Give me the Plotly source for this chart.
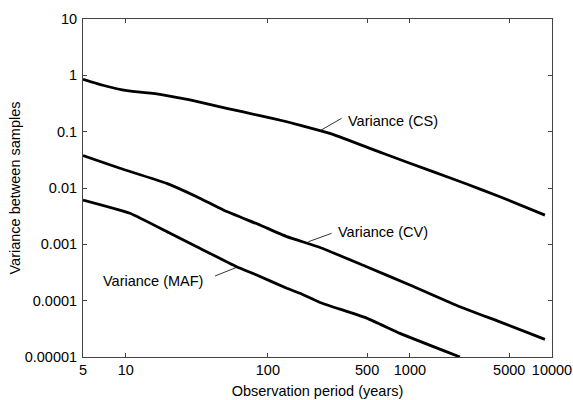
import math
import plotly.graph_objects as go

# Data
cs_x = [5, 7, 10.2, 17.4, 28.3, 51.3, 88, 136, 233, 287, 646, 1452, 2507, 4300, 8920]
cs_y = [0.85, 0.66, 0.533, 0.46, 0.365, 0.26, 0.192, 0.150, 0.104, 0.0897, 0.0413, 0.0195, 0.0118, 0.0070, 0.0033]

cv_x = [5, 9.1, 19.4, 31.6, 48.6, 88, 136, 233, 496, 1000, 2250, 4300, 8920]
cv_y = [0.0377, 0.0224, 0.0121, 0.0070, 0.00406, 0.0022, 0.00137, 0.00088, 0.0004, 0.00019, 7.8e-5, 4.2e-5, 2.06e-5]

maf_x = [5, 10.7, 20.5, 31.6, 60.3, 83.4, 136, 168, 233, 496, 851, 2250]
maf_y = [0.00612, 0.00356, 0.00157, 0.00091, 0.0004, 0.000285, 0.000166, 0.000135, 9.3e-5, 4.9e-5, 2.63e-5, 1.0e-5]

x_ticks = [5, 10, 100, 500, 1000, 5000, 10000]
x_tick_labels = ["5", "10", "100", "500", "1000", "5000", "10000"]
y_ticks = [1e-5, 1e-4, 1e-3, 1e-2, 1e-1, 1, 10]
y_tick_labels = ["0.00001", "0.0001", "0.001", "0.01", "0.1", "1", "10"]

labels = ["Variance (CS)", "Variance (CV)", "Variance (MAF)"]
# leader line endpoints (curve point, text end)
leaders = [([233, 331], [0.104, 0.173]),
           ([192.6, 281], [0.00111, 0.00157]),
           ([60.4, 42.5], [0.000391, 0.000274])]
label_pos = [(354.6, 0.1566, "left"), (301.6, 0.001675, "left"), (36.1, 0.000223, "right")]

FONT = "Liberation Sans, Arial, Helvetica, sans-serif"
FS = 14.5

fig = go.Figure()
for xs, ys in [(cs_x, cs_y), (cv_x, cv_y), (maf_x, maf_y)]:
    fig.add_trace(go.Scatter(x=xs, y=ys, mode="lines",
                             line=dict(color="black", width=2.8, shape="spline", smoothing=0.4),
                             showlegend=False, hoverinfo="skip"))
for lx, ly in leaders:
    fig.add_trace(go.Scatter(x=lx, y=ly, mode="lines",
                             line=dict(color="black", width=0.8),
                             showlegend=False, hoverinfo="skip"))

for text, (px, py, anchor) in zip(labels, label_pos):
    fig.add_annotation(x=math.log10(px), y=math.log10(py), text=text,
                       showarrow=False, xanchor=anchor, yanchor="middle",
                       font=dict(family=FONT, size=FS, color="black"))

axis_common = dict(showline=True, linecolor="#444", linewidth=1, mirror="ticks",
                   ticks="inside", ticklen=4, tickcolor="#444", showgrid=False,
                   zeroline=False, automargin=False,
                   tickfont=dict(family=FONT, size=FS, color="black"))

fig.update_xaxes(type="log", range=[math.log10(5), 4], tickvals=x_ticks,
                 ticktext=x_tick_labels,
                 title=dict(text="Observation period (years)", standoff=8,
                            font=dict(family=FONT, size=FS, color="black")),
                 **axis_common)
fig.update_yaxes(type="log", range=[-5, 1], tickvals=y_ticks,
                 ticktext=y_tick_labels, ticklabelstandoff=2,
                 title=dict(text="Variance between samples", standoff=0,
                            font=dict(family=FONT, size=FS, color="black")),
                 **axis_common)

fig.update_layout(width=573, height=400,
                  margin=dict(l=83, r=21, t=19, b=43),
                  plot_bgcolor="white", paper_bgcolor="white",
                  font=dict(family=FONT, size=FS, color="black"))

fig.write_html("out.html", config={"displayModeBar": False},
               post_script="document.body.style.margin='0';document.body.style.overflow='hidden';")
